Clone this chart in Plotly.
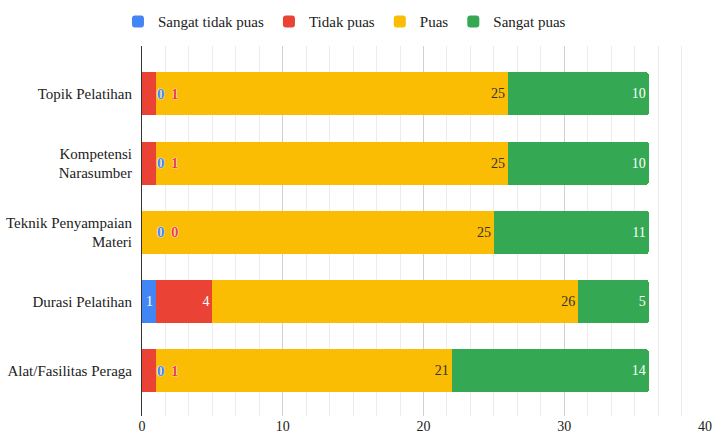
import plotly.graph_objects as go

categories = ["Topik Pelatihan", "Kompetensi<br>Narasumber", "Teknik Penyampaian<br>Materi",
              "Durasi Pelatihan", "Alat/Fasilitas Peraga"]
series_names = ["Sangat tidak puas", "Tidak puas", "Puas", "Sangat puas"]
sangat_tidak_puas = [0, 0, 0, 1, 0]
tidak_puas = [1, 1, 0, 4, 1]
puas = [25, 25, 25, 26, 21]
sangat_puas = [10, 10, 11, 5, 14]
x_ticks = [0, 10, 20, 30, 40]

colors = ["#4285F4", "#EA4335", "#FBBC04", "#34A853"]
text_colors = ["white", "white", "#333333", "white"]
FONT = "Liberation Serif, DejaVu Serif, serif"

values = [sangat_tidak_puas, tidak_puas, puas, sangat_puas]

# rows where a zero appears among the first two series get their small labels outside
outside_rows = [i for i in range(len(categories)) if sangat_tidak_puas[i] == 0 or tidak_puas[i] == 0]

fig = go.Figure()
for s, (name, vals) in enumerate(zip(series_names, values)):
    texts = []
    for i, v in enumerate(vals):
        if s < 2 and i in outside_rows:
            texts.append("")
        else:
            texts.append(str(v) if v != 0 else "")
    fig.add_trace(go.Bar(
        y=categories, x=vals, name=name, orientation="h",
        marker=dict(color=colors[s], line=dict(width=0)),
        text=texts, textposition="inside", insidetextanchor="end",
        textfont=dict(family=FONT, size=14, color=text_colors[s]),
        width=0.62, hoverinfo="x+name",
    ))

halo = "0px 0px 1px white, 0px 0px 1px white, 0px 0px 1px white"
annotations = []
for i in outside_rows:
    for s in range(2):
        annotations.append(dict(
            x=0, y=categories[i], xref="x", yref="y",
            text=str(values[s][i]), showarrow=False,
            xanchor="center", xshift=19 + 14 * s,
            font=dict(family=FONT, size=15, color=colors[s], shadow=halo, weight="bold"),
        ))

fig.update_layout(
    barmode="stack",
    barcornerradius=2,
    width=712, height=436,
    margin=dict(l=142, r=7, t=46, b=20, autoexpand=False),
    paper_bgcolor="white", plot_bgcolor="white",
    font=dict(family=FONT, size=15, color="#222222"),
    uniformtext=dict(minsize=14, mode="show"),
    legend=dict(orientation="h", xref="container", yref="container",
                x=0.4838, xanchor="center", y=0.95, yanchor="middle",
                font=dict(family=FONT, size=15, color="#222222"),
                traceorder="normal"),
    annotations=annotations,
    showlegend=True,
)
fig.update_xaxes(
    range=[0, 40], tickvals=x_ticks, ticktext=[str(t) for t in x_ticks],
    showgrid=True, gridcolor="#d0d0d0", gridwidth=1,
    minor=dict(dtick=10 / 6, showgrid=True, gridcolor="#ececec", gridwidth=1),
    zeroline=False, showline=False, ticks="", automargin=False,
    ticklabeloverflow="allow",
    tickfont=dict(family=FONT, size=14, color="#222222"),
)
fig.update_yaxes(
    categoryorder="array", categoryarray=categories,
    range=[4.65, -0.69], automargin=False,
    showgrid=False, zeroline=False, showline=True, linecolor="#333333", linewidth=1,
    ticks="", ticklabelstandoff=6,
    tickfont=dict(family=FONT, size=15, color="#222222"),
)

fig.write_html(
    "out.html",
    config={"displayModeBar": False},
    post_script="document.body.style.margin='0';document.body.style.overflow='hidden';",
)
